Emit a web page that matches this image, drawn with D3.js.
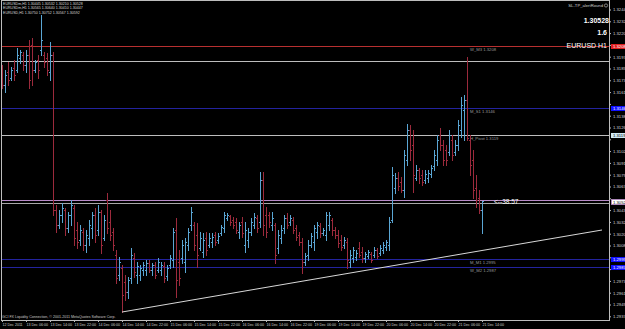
<!DOCTYPE html>
<meta charset="utf-8">
<head>
    <title>EURUSD H1</title>
    <script src="https://cdn.jsdelivr.net/npm/d3@7"></script>
    <style>
        body { margin: 0; background: #000; }
        svg { display: block; }
        text { font-family: "Liberation Sans", Arial, sans-serif; }
    </style>
</head>
<body>
<div id="chart"></div>
<script>

    // hourly bars, 12 Dec 22:00 .. 21 Dec 14:00
    var opens = [
        1.3184,1.3169,1.3182,1.3176,1.3186,1.3184,1.3196,1.3199,1.3189,1.3199,
        1.3209,1.3184,1.3194,1.3204,1.3199,1.3196,1.3182,1.3199,1.3044,1.3029,
        1.3039,1.3044,1.3026,1.3039,1.3046,1.3024,1.3014,1.3022,1.3009,1.3016,
        1.3026,1.3039,1.3024,1.3042,1.3016,1.3054,1.3032,1.3022,1.2999,1.2979,
        1.2986,1.2972,1.2962,1.2976,1.2996,1.2979,1.2979,1.2984,1.2984,1.2991,
        1.2984,1.2989,1.2984,1.2984,1.2988,1.2978,1.2989,1.2994,1.3024,1.2992,
        1.2996,1.2992,1.3009,1.3029,1.3029,1.3019,1.3006,1.3002,1.3016,1.3009,
        1.3012,1.3019,1.3014,1.3021,1.3026,1.3036,1.3038,1.3034,1.3032,1.3022,
        1.3032,1.3009,1.3014,1.3022,1.3029,1.3036,1.3032,1.3074,1.3039,1.3039,
        1.3029,1.3029,1.3006,1.3016,1.3026,1.3036,1.3032,1.3034,1.3026,1.3019,
        1.3012,1.2992,1.2999,1.3009,1.3012,1.3022,1.3028,1.3021,1.3019,1.3029,
        1.3034,1.3024,1.3019,1.3014,1.3009,1.3012,1.2992,1.2996,1.2997,1.3006,
        1.3002,1.2996,1.2998,1.3000,1.2999,1.3004,1.3001,1.3004,1.3007,1.3009,
        1.3034,1.3066,1.3076,1.3072,1.3064,1.3094,1.3124,1.3109,1.3076,1.3084,
        1.3079,1.3074,1.3076,1.3080,1.3088,1.3094,1.3119,1.3109,1.3104,1.3102,
        1.3114,1.3102,1.3109,1.3124,1.3144,1.3154,1.3114,1.3094,1.3066,1.3056,
        1.3044
    ];
    var highs = [
        1.3189,1.3184,1.3192,1.3187,1.3194,1.3206,1.3204,1.3202,1.3204,1.3214,
        1.3216,1.3194,1.3199,1.3239,1.3202,1.3201,1.3212,1.3202,1.3049,1.3044,
        1.3051,1.3046,1.3042,1.3054,1.3049,1.3032,1.3029,1.3026,1.3024,1.3034,
        1.3042,1.3046,1.3049,1.3044,1.3039,1.3061,1.3044,1.3026,1.3004,1.2997,
        1.2989,1.2979,1.2977,1.3006,1.3001,1.2992,1.2989,1.2992,1.2994,1.2994,
        1.2991,1.2992,1.2996,1.2992,1.2992,1.2989,1.2999,1.3026,1.3036,1.3004,
        1.3014,1.3016,1.3026,1.3047,1.3032,1.3031,1.3022,1.3021,1.3022,1.3021,
        1.3021,1.3022,1.3021,1.3029,1.3042,1.3041,1.3039,1.3037,1.3036,1.3032,
        1.3037,1.3032,1.3026,1.3036,1.3041,1.3039,1.3082,1.3082,1.3047,1.3042,
        1.3042,1.3031,1.3024,1.3029,1.3039,1.3041,1.3039,1.3037,1.3029,1.3022,
        1.3016,1.3001,1.3014,1.3021,1.3029,1.3032,1.3031,1.3026,1.3042,1.3042,
        1.3036,1.3027,1.3024,1.3019,1.3017,1.3016,1.3004,1.3007,1.3004,1.3012,
        1.3007,1.3002,1.3004,1.3002,1.3007,1.3006,1.3009,1.3012,1.3014,1.3037,
        1.3087,1.3081,1.3082,1.3077,1.3104,1.3130,1.3129,1.3124,1.3089,1.3086,
        1.3084,1.3084,1.3084,1.3089,1.3104,1.3119,1.3126,1.3114,1.3109,1.3124,
        1.3119,1.3114,1.3134,1.3157,1.3159,1.3197,1.3119,1.3104,1.3079,1.3064,
        1.3053
    ];
    var lows = [
        1.3166,1.3162,1.3169,1.3174,1.3174,1.3182,1.3191,1.3184,1.3182,1.3166,
        1.3169,1.3182,1.3176,1.3199,1.3187,1.3179,1.3174,1.3039,1.3022,1.3026,
        1.3032,1.3019,1.3022,1.3029,1.3009,1.3006,1.3009,1.3004,1.3002,1.3009,
        1.3016,1.3012,1.3019,1.3001,1.3014,1.3021,1.3014,1.3004,1.2971,1.2974,
        1.2942,1.2954,1.2956,1.2971,1.2977,1.2971,1.2974,1.2979,1.2979,1.2982,
        1.2979,1.2976,1.2982,1.2979,1.2972,1.2974,1.2986,1.2987,1.2957,1.2969,
        1.2991,1.2982,1.3004,1.3024,1.3004,1.2987,1.3004,1.2997,1.2999,1.3007,
        1.3007,1.3009,1.3011,1.3019,1.3022,1.3034,1.3029,1.3026,1.3021,1.3016,
        1.3017,1.3002,1.3007,1.3019,1.3026,1.3022,1.3027,1.3019,1.3017,1.3027,
        1.3024,1.2991,1.3001,1.3011,1.3021,1.3026,1.3029,1.3021,1.3014,1.3009,
        1.2981,1.2989,1.2994,1.3007,1.3004,1.3016,1.3017,1.3019,1.3014,1.3024,
        1.3019,1.3016,1.3007,1.3004,1.3006,1.2986,1.2987,1.2992,1.2994,1.2997,
        1.2992,1.2992,1.2996,1.2992,1.2997,1.2996,1.2999,1.3001,1.3004,1.3004,
        1.3032,1.3061,1.3064,1.3062,1.3057,1.3089,1.3094,1.3062,1.3074,1.3071,
        1.3069,1.3071,1.3072,1.3077,1.3084,1.3089,1.3104,1.3089,1.3089,1.3099,
        1.3094,1.3099,1.3104,1.3117,1.3114,1.3114,1.3079,1.3056,1.3047,1.3041,
        1.3021
    ];
    var closes = [
        1.3169,1.3179,1.3174,1.3184,1.3179,1.3199,1.3202,1.3189,1.3199,1.3174,
        1.3184,1.3192,1.3184,1.3214,1.3192,1.3184,1.3199,1.3044,1.3029,1.3039,
        1.3046,1.3026,1.3039,1.3049,1.3016,1.3012,1.3024,1.3009,1.3019,1.3029,
        1.3039,1.3019,1.3042,1.3009,1.3034,1.3026,1.3019,1.3009,1.2976,1.2992,
        1.2959,1.2962,1.2974,1.2999,1.2982,1.2988,1.2986,1.2989,1.2991,1.2984,
        1.2989,1.2979,1.2992,1.2989,1.2976,1.2986,1.2996,1.3022,1.2974,1.2976,
        1.3009,1.3012,1.3022,1.3042,1.3009,1.2999,1.3016,1.3014,1.3004,1.3016,
        1.3017,1.3012,1.3018,1.3027,1.3039,1.3039,1.3032,1.3029,1.3024,1.3029,
        1.3021,1.3024,1.3022,1.3032,1.3037,1.3026,1.3074,1.3029,1.3022,1.3032,
        1.3036,1.2999,1.3019,1.3024,1.3036,1.3029,1.3036,1.3024,1.3017,1.3012,
        1.2992,1.2998,1.3009,1.3018,1.3026,1.3029,1.3021,1.3024,1.3039,1.3039,
        1.3024,1.3019,1.3011,1.3007,1.3014,1.2994,1.2999,1.3004,1.3001,1.2999,
        1.2996,1.3000,1.3002,1.2994,1.3004,1.2998,1.3006,1.3009,1.3012,1.3032,
        1.3079,1.3076,1.3068,1.3064,1.3099,1.3124,1.3104,1.3079,1.3084,1.3076,
        1.3072,1.3080,1.3081,1.3086,1.3099,1.3114,1.3109,1.3094,1.3094,1.3119,
        1.3099,1.3109,1.3129,1.3149,1.3154,1.3116,1.3089,1.3064,1.3054,1.3044,
        1.30528
    ];

    // time axis labels, one every 8 bars
    var timeLabels = ["12 Dec 2011", "13 Dec 06:00", "13 Dec 14:00", "13 Dec 22:00", "14 Dec 06:00",
        "14 Dec 14:00", "14 Dec 22:00", "15 Dec 06:00", "15 Dec 14:00", "15 Dec 22:00",
        "16 Dec 06:00", "16 Dec 14:00", "16 Dec 22:00", "19 Dec 06:00", "19 Dec 14:00",
        "19 Dec 22:00", "20 Dec 06:00", "20 Dec 14:00", "20 Dec 22:00", "21 Dec 06:00", "21 Dec 14:00"];
    var timeLabelBars = [0, 8, 16, 24, 32, 40, 48, 56, 64, 72, 80, 88, 96, 104, 112, 120, 128, 136, 144, 152, 160];

    var priceTicks = [1.32445, 1.32327, 1.32209, 1.32091, 1.31973, 1.31855, 1.31737, 1.31619, 1.31501,
        1.31383, 1.31265, 1.31147, 1.31029, 1.30911, 1.30793, 1.30675, 1.30557, 1.30439, 1.30321,
        1.30203, 1.30085, 1.29967, 1.29849, 1.29731, 1.29613, 1.29495, 1.29377];

    // pivot levels
    var levelNames = ["W_M3 1.3208", "", "M_S1 1.3146", "H_Pivot 1.3119", "M_M1 1.2995", "W_M2 1.2987"];
    var levelPrices = [1.3208, 1.3193, 1.3146, 1.3119, 1.2995, 1.2987];
    var bidPrice = 1.30528;
    var markLinePrice = 1.30545;

    // trend line anchors (bar index, price)
    var trendBars = [40, 200];
    var trendPrices = [1.2942, 1.3024];

    var headerLines = ["EURUSDm,H1  1.30445 1.30532 1.30210 1.30528",
        "EURUSDm,H1  1.30565 1.30640 1.30410 1.30447",
        "EURUSD,H1  1.30750 1.30752 1.30567 1.30592"];

    var width = 625, height = 329;
    var plotRight = 609, plotBottom = 320;

    var levelColors = ["#b83030", "#bdbdbd", "#23239e", "#bdbdbd", "#23239e", "#23239e"];
    var levelBoxColors = ["#e02020", null, "#1010ff", "#cfe8f2", "#1010ff", "#1010ff"];
    var levelBoxText = ["#ffffff", null, "#ffffff", "#000000", "#ffffff", "#ffffff"];
    var upColor = "#5aa6d4", downColor = "#9c2a3c";

    var svg = d3.select("#chart").append("svg")
        .attr("width", width)
        .attr("height", height)
        .style("background", "#000");

    var x = d3.scaleLinear().domain([0, 160]).range([2, 482]);
    var y = d3.scaleLinear().domain([1.2934, 1.3254]).range([plotBottom, 0]);

    var bars = d3.range(opens.length).map(function(i) {
        return { i: i, o: opens[i], h: highs[i], l: lows[i], c: closes[i] };
    });

    function px(v) { return Math.round(v) + 0.5; }

    // horizontal levels
    var levels = svg.append("g").attr("shape-rendering", "crispEdges");
    levelPrices.forEach(function(p, k) {
        levels.append("line")
            .attr("x1", 1).attr("x2", plotRight)
            .attr("y1", px(y(p))).attr("y2", px(y(p)))
            .attr("stroke", levelColors[k]);
        if (levelNames[k]) {
            svg.append("text")
                .attr("x", 470).attr("y", y(p) + 5)
                .attr("fill", "#9a9a9a")
                .attr("font-size", 4.2)
                .text(levelNames[k]);
        }
    });
    levels.append("line")
        .attr("x1", 1).attr("x2", plotRight)
        .attr("y1", px(y(markLinePrice))).attr("y2", px(y(markLinePrice)))
        .attr("stroke", "#b88ac8");
    levels.append("line")
        .attr("x1", 1).attr("x2", plotRight)
        .attr("y1", px(y(bidPrice)) + 2).attr("y2", px(y(bidPrice)) + 2)
        .attr("stroke", "#a8a8a8");

    // bars
    var g = svg.append("g").attr("shape-rendering", "crispEdges");
    var barG = g.selectAll("g.bar").data(bars).enter().append("g")
        .attr("stroke", function(d) { return d.c >= d.o ? upColor : downColor; });
    barG.append("line")
        .attr("x1", function(d) { return px(x(d.i)); })
        .attr("x2", function(d) { return px(x(d.i)); })
        .attr("y1", function(d) { return Math.round(y(d.h)); })
        .attr("y2", function(d) { return Math.round(y(d.l)) + 1; });
    barG.append("line")
        .attr("x1", function(d) { return Math.round(x(d.i)) - 1; })
        .attr("x2", function(d) { return Math.round(x(d.i)); })
        .attr("y1", function(d) { return px(y(d.o)); })
        .attr("y2", function(d) { return px(y(d.o)); });
    barG.append("line")
        .attr("x1", function(d) { return Math.round(x(d.i)) + 1; })
        .attr("x2", function(d) { return Math.round(x(d.i)) + 2; })
        .attr("y1", function(d) { return px(y(d.c)); })
        .attr("y2", function(d) { return px(y(d.c)); });

    // trend line
    svg.append("line")
        .attr("x1", x(trendBars[0])).attr("y1", y(trendPrices[0]))
        .attr("x2", x(trendBars[1])).attr("y2", y(trendPrices[1]))
        .attr("stroke", "#d8d8d8")
        .attr("stroke-width", 1);

    // frame
    svg.append("rect")
        .attr("x", 1.5).attr("y", 0.5)
        .attr("width", plotRight - 1.5).attr("height", plotBottom - 0.5)
        .attr("fill", "none")
        .attr("stroke", "#bdbdbd")
        .attr("shape-rendering", "crispEdges");

    // price axis
    var boxPrices = levelPrices.filter(function(p, k) { return levelBoxColors[k]; }).concat([bidPrice]);
    var yAxis = d3.axisRight(y)
        .tickValues(priceTicks)
        .tickSize(2)
        .tickPadding(2)
        .tickFormat(d3.format(".5f"));
    var ya = svg.append("g")
        .attr("transform", "translate(" + plotRight + ",0)")
        .call(yAxis);
    ya.select(".domain").remove();
    ya.selectAll("line").attr("stroke", "#bdbdbd");
    ya.selectAll("text").attr("fill", "#d0d0d0").attr("font-size", 4.2).attr("font-family", null)
        .style("display", function(t) {
            // the highlighted boxes cover the tick labels beneath them
            var hidden = boxPrices.some(function(p) { return Math.abs(y(p) - y(t)) < 5; });
            return hidden ? "none" : null;
        });

    // highlighted price boxes
    levelPrices.forEach(function(p, k) {
        if (!levelBoxColors[k]) return;
        svg.append("rect")
            .attr("x", plotRight + 2).attr("y", Math.round(y(p)) - 2)
            .attr("width", 16).attr("height", 5)
            .attr("fill", levelBoxColors[k]);
        svg.append("text")
            .attr("x", plotRight + 4).attr("y", y(p) + 1.6)
            .attr("fill", levelBoxText[k])
            .attr("font-size", 4.2)
            .text(d3.format(".4f")(p));
    });
    svg.append("rect")
        .attr("x", plotRight + 2.5).attr("y", Math.round(y(bidPrice)) - 1.5)
        .attr("width", 15).attr("height", 5)
        .attr("fill", "#ffffff").attr("stroke", "#b88ac8").attr("stroke-width", 0.8);
    svg.append("text")
        .attr("x", plotRight + 4).attr("y", y(bidPrice) + 2.4)
        .attr("fill", "#000")
        .attr("font-size", 4.2)
        .text(d3.format(".5f")(bidPrice));

    // time axis
    var xAxis = d3.axisBottom(x)
        .tickValues(timeLabelBars)
        .tickSize(2)
        .tickPadding(1)
        .tickFormat(function(d, k) { return timeLabels[k]; });
    var xa = svg.append("g")
        .attr("transform", "translate(0," + plotBottom + ")")
        .call(xAxis);
    xa.select(".domain").remove();
    xa.selectAll("line").attr("stroke", "#bdbdbd");
    xa.selectAll("text")
        .attr("text-anchor", "start")
        .attr("fill", "#d0d0d0")
        .attr("font-size", 3.6)
        .attr("font-family", null);

    // header info (top left)
    svg.selectAll("text.head").data(headerLines).enter().append("text")
        .attr("x", 3)
        .attr("y", function(d, k) { return 5 + k * 4.3; })
        .attr("fill", "#d8d8d8")
        .attr("font-size", 3.6)
        .text(function(d) { return d; });

    // top right info
    svg.append("text").attr("x", 603).attr("y", 7).attr("text-anchor", "end")
        .attr("fill", "#d0d0d0").attr("font-size", 4.2).text("SL-TP_alertRound");
    svg.append("circle").attr("cx", 606).attr("cy", 5.5).attr("r", 1.6)
        .attr("fill", "none").attr("stroke", "#d0d0d0").attr("stroke-width", 0.6);
    svg.append("text").attr("x", 609).attr("y", 23).attr("text-anchor", "end")
        .attr("fill", "#fff").attr("font-size", 7).attr("font-weight", "bold").text("1.30528");
    svg.append("text").attr("x", 607).attr("y", 35).attr("text-anchor", "end")
        .attr("fill", "#fff").attr("font-size", 7).attr("font-weight", "bold").text("1.6");
    svg.append("text").attr("x", 607).attr("y", 48).attr("text-anchor", "end")
        .attr("fill", "#fff").attr("font-size", 7).text("EURUSD H1");

    // bar timer
    svg.append("text").attr("x", 494).attr("y", y(bidPrice) + 2.5)
        .attr("fill", "#fff").attr("font-size", 6.5).text("<--38:57");

    // copyright
    svg.append("text").attr("x", 2).attr("y", 318)
        .attr("fill", "#c8c8c8").attr("font-size", 3.6)
        .text("GCI FX Liquidity Connection, © 2001-2011 MetaQuotes Software Corp.");

</script>
</body>
</html>
